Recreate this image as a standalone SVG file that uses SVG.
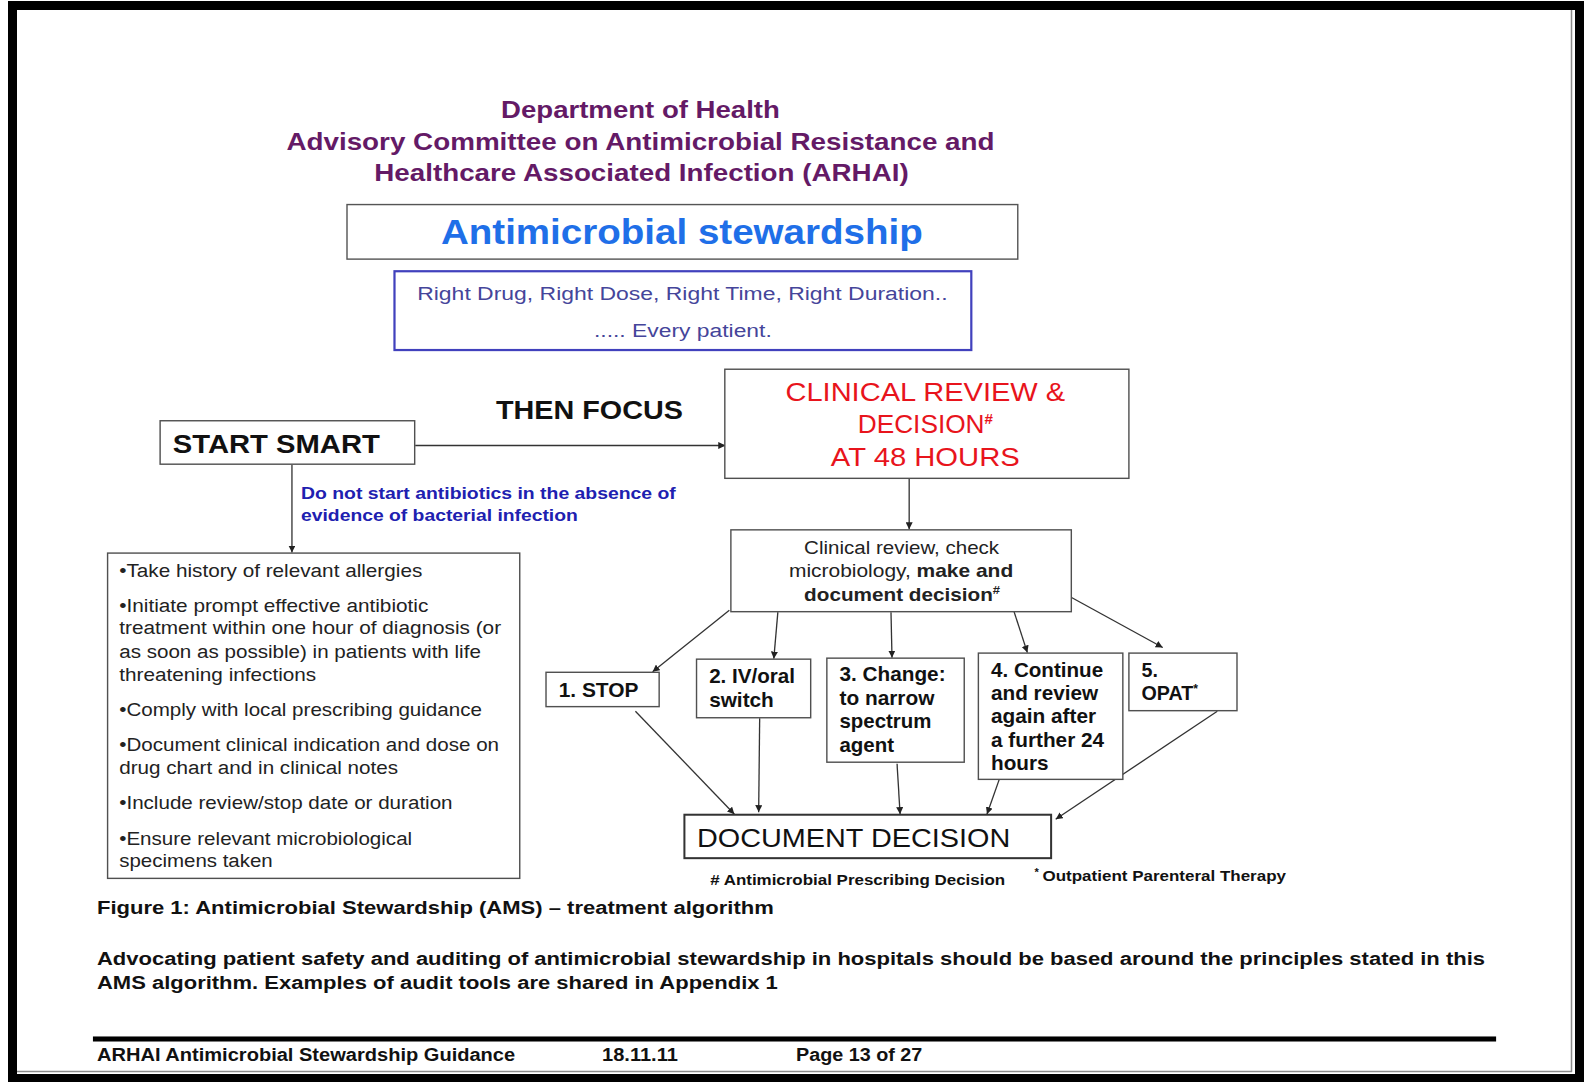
<svg xmlns="http://www.w3.org/2000/svg" width="1584" height="1082" viewBox="0 0 1584 1082">
  <style>
    .sans { font-family: "Liberation Sans", Arial, sans-serif; }
    .title { font-family: "Liberation Sans", Arial, sans-serif; font-weight: bold; font-size: 24px; fill: #641a66; text-anchor: middle; }
    .box { fill: #ffffff; stroke: #505050; stroke-width: 1.4; }
    .body { font-family: "Liberation Sans", Arial, sans-serif; font-size: 17.5px; fill: #222222; }
    .opt { font-family: "Liberation Sans", Arial, sans-serif; font-size: 19.5px; font-weight: bold; fill: #111111; }
    .red { font-family: "Liberation Sans", Arial, sans-serif; font-size: 26px; fill: #e8141c; text-anchor: middle; }
    .caption { font-family: "Liberation Sans", Arial, sans-serif; font-size: 19px; font-weight: bold; fill: #111111; }
    .conn { stroke: #333333; stroke-width: 1.3; fill: none; marker-end: url(#arrow); }
  </style>
  <defs>
    <marker id="arrow" viewBox="0 0 10 10" refX="10" refY="5" markerWidth="7" markerHeight="7" markerUnits="userSpaceOnUse" orient="auto">
      <path d="M0,0 L10,5 L0,10 z" fill="#222222"/>
    </marker>
  </defs>

  <!-- page background and frame -->
  <rect x="0" y="0" width="1584" height="1082" fill="#ffffff"/>
  <path d="M8,1 H1584 V1082 H8 Z M17,10 V1074 H1575 V10 Z" fill="#000000" fill-rule="evenodd"/>
  <line x1="1571.5" y1="10" x2="1571.5" y2="1072" stroke="#8a8a8a" stroke-width="1.5"/>
  <line x1="17" y1="1071.5" x2="1572" y2="1071.5" stroke="#8a8a8a" stroke-width="1.5"/>

  <g transform="scale(1.0102)">
    <!-- heading -->
    <g id="heading">
      <text class="title" x="634" y="117" textLength="276" lengthAdjust="spacingAndGlyphs">Department of Health</text>
      <text class="title" x="634" y="148" textLength="701" lengthAdjust="spacingAndGlyphs">Advisory Committee on Antimicrobial Resistance and</text>
      <text class="title" x="635" y="179" textLength="529" lengthAdjust="spacingAndGlyphs">Healthcare Associated Infection (ARHAI)</text>
    </g>

    <g id="stewardship-title">
      <rect x="343.5" y="202.5" width="664" height="54" fill="#ffffff" stroke="#555555" stroke-width="1.4"/>
      <text class="sans" x="675" y="242" font-size="34" font-weight="bold" fill="#1f6fe8" text-anchor="middle" textLength="477" lengthAdjust="spacingAndGlyphs">Antimicrobial stewardship</text>
    </g>

    <g id="principles">
      <rect x="390.5" y="268.5" width="571" height="78" fill="#ffffff" stroke="#4141bd" stroke-width="2.2"/>
      <text class="sans" x="675.5" y="297" font-size="19" fill="#45459a" text-anchor="middle" textLength="525" lengthAdjust="spacingAndGlyphs">Right Drug, Right Dose, Right Time, Right Duration..</text>
      <text class="sans" x="676" y="334" font-size="19" fill="#45459a" text-anchor="middle" textLength="176" lengthAdjust="spacingAndGlyphs">..... Every patient.</text>
    </g>

    <!-- connectors -->
    <g id="connectors">
      <line class="conn" x1="411" y1="441" x2="718" y2="441"/>
      <line class="conn" x1="289" y1="460" x2="289" y2="547"/>
      <line class="conn" x1="900" y1="474" x2="900" y2="524"/>
      <line class="conn" x1="722" y1="604" x2="646" y2="665"/>
      <line class="conn" x1="770" y1="606" x2="766" y2="652"/>
      <line class="conn" x1="882" y1="606" x2="883" y2="651"/>
      <line class="conn" x1="1003" y1="603" x2="1017" y2="646"/>
      <line class="conn" x1="1058" y1="590" x2="1151" y2="641"/>
      <line class="conn" x1="629" y1="704" x2="727" y2="806"/>
      <line class="conn" x1="752" y1="711" x2="751" y2="804"/>
      <line class="conn" x1="888" y1="756" x2="891" y2="806"/>
      <line class="conn" x1="989" y1="772" x2="977" y2="806"/>
      <line class="conn" x1="1205" y1="704" x2="1045" y2="811"/>
    </g>

    <text class="sans" x="491" y="415" font-size="25" font-weight="bold" fill="#111111" textLength="185" lengthAdjust="spacingAndGlyphs">THEN FOCUS</text>

    <g id="start-smart">
      <rect class="box" x="158.5" y="416.5" width="252" height="43"/>
      <text class="sans" x="171" y="448" font-size="25" font-weight="bold" fill="#111111" textLength="205" lengthAdjust="spacingAndGlyphs">START SMART</text>
    </g>

    <g id="clinical-review-48h">
      <rect class="box" x="717.5" y="365.5" width="400" height="108"/>
      <text class="red" x="916" y="397" textLength="277" lengthAdjust="spacingAndGlyphs">CLINICAL REVIEW &amp;</text>
      <text class="red" x="916" y="429">DECISION<tspan font-size="15" font-weight="bold" dy="-9">#</tspan></text>
      <text class="red" x="916" y="461" textLength="187" lengthAdjust="spacingAndGlyphs">AT 48 HOURS</text>
    </g>

    <g id="no-antibiotics-note">
      <text class="sans" x="298" y="494" font-size="16" font-weight="bold" fill="#2020b0" textLength="371" lengthAdjust="spacingAndGlyphs">Do not start antibiotics in the absence of</text>
      <text class="sans" x="298" y="516" font-size="16" font-weight="bold" fill="#2020b0" textLength="274" lengthAdjust="spacingAndGlyphs">evidence of bacterial infection</text>
    </g>

    <g id="start-smart-actions">
      <rect class="box" x="106.5" y="547.5" width="408" height="322"/>
      <text class="body" x="118" y="571" textLength="300" lengthAdjust="spacingAndGlyphs">•Take history of relevant allergies</text>
      <text class="body" x="118" y="606" textLength="306" lengthAdjust="spacingAndGlyphs">•Initiate prompt effective antibiotic</text>
      <text class="body" x="118" y="628" textLength="378" lengthAdjust="spacingAndGlyphs">treatment within one hour of diagnosis (or</text>
      <text class="body" x="118" y="651" textLength="358" lengthAdjust="spacingAndGlyphs">as soon as possible) in patients with life</text>
      <text class="body" x="118" y="674" textLength="195" lengthAdjust="spacingAndGlyphs">threatening infections</text>
      <text class="body" x="118" y="709" textLength="359" lengthAdjust="spacingAndGlyphs">•Comply with local prescribing guidance</text>
      <text class="body" x="118" y="743" textLength="376" lengthAdjust="spacingAndGlyphs">•Document clinical indication and dose on</text>
      <text class="body" x="118" y="766" textLength="276" lengthAdjust="spacingAndGlyphs">drug chart and in clinical notes</text>
      <text class="body" x="118" y="801" textLength="330" lengthAdjust="spacingAndGlyphs">•Include review/stop date or duration</text>
      <text class="body" x="118" y="836" textLength="290" lengthAdjust="spacingAndGlyphs">•Ensure relevant microbiological</text>
      <text class="body" x="118" y="858" textLength="152" lengthAdjust="spacingAndGlyphs">specimens taken</text>
    </g>

    <g id="review-decision">
      <rect class="box" x="723.5" y="524.5" width="337" height="81"/>
      <text class="body" x="892.5" y="548" font-size="17" text-anchor="middle" textLength="193" lengthAdjust="spacingAndGlyphs">Clinical review, check</text>
      <text class="body" x="892" y="571" font-size="17" text-anchor="middle" textLength="222" lengthAdjust="spacingAndGlyphs">microbiology, <tspan font-weight="bold">make and</tspan></text>
      <text class="body" x="893" y="595" font-size="17" font-weight="bold" text-anchor="middle" textLength="194" lengthAdjust="spacingAndGlyphs">document decision<tspan font-size="11" dy="-7">#</tspan></text>
    </g>

    <g id="opt-stop">
      <rect class="box" x="540.5" y="665.5" width="112" height="34"/>
      <text class="opt" x="553" y="690" textLength="79" lengthAdjust="spacingAndGlyphs">1. STOP</text>
    </g>

    <g id="opt-iv-oral">
      <rect class="box" x="689.5" y="652.5" width="113" height="58"/>
      <text class="opt" x="702" y="676" textLength="85" lengthAdjust="spacingAndGlyphs">2. IV/oral</text>
      <text class="opt" x="702" y="700" textLength="64" lengthAdjust="spacingAndGlyphs">switch</text>
    </g>

    <g id="opt-change">
      <rect class="box" x="818.5" y="651.5" width="136" height="103"/>
      <text class="opt" x="831" y="674" textLength="105" lengthAdjust="spacingAndGlyphs">3. Change:</text>
      <text class="opt" x="831" y="698" textLength="94" lengthAdjust="spacingAndGlyphs">to narrow</text>
      <text class="opt" x="831" y="721" textLength="91" lengthAdjust="spacingAndGlyphs">spectrum</text>
      <text class="opt" x="831" y="744" textLength="54" lengthAdjust="spacingAndGlyphs">agent</text>
    </g>

    <g id="opt-continue">
      <rect class="box" x="968.5" y="646.5" width="143" height="125"/>
      <text class="opt" x="981" y="670" textLength="111" lengthAdjust="spacingAndGlyphs">4. Continue</text>
      <text class="opt" x="981" y="693" textLength="106" lengthAdjust="spacingAndGlyphs">and review</text>
      <text class="opt" x="981" y="716" textLength="104" lengthAdjust="spacingAndGlyphs">again after</text>
      <text class="opt" x="981" y="739" textLength="112" lengthAdjust="spacingAndGlyphs">a further 24</text>
      <text class="opt" x="981" y="762" textLength="57" lengthAdjust="spacingAndGlyphs">hours</text>
    </g>

    <g id="opt-opat">
      <rect class="box" x="1117.5" y="646.5" width="107" height="57"/>
      <text class="opt" x="1130" y="670">5.</text>
      <text class="opt" x="1130" y="693">OPAT<tspan font-size="12" dy="-7">*</tspan></text>
    </g>

    <g id="document-decision">
      <rect x="677.5" y="806.5" width="363" height="43" fill="#ffffff" stroke="#333333" stroke-width="2"/>
      <text class="sans" x="690" y="838" font-size="26" fill="#111111" textLength="310" lengthAdjust="spacingAndGlyphs">DOCUMENT DECISION</text>
    </g>

    <g id="footnotes">
      <text class="sans" x="703" y="876" font-size="15" font-weight="bold" fill="#111111" textLength="292" lengthAdjust="spacingAndGlyphs"># Antimicrobial Prescribing Decision</text>
      <text class="sans" x="1024" y="867" font-size="11" font-weight="bold" fill="#111111">*</text>
      <text class="sans" x="1032" y="872" font-size="15" font-weight="bold" fill="#111111" textLength="241" lengthAdjust="spacingAndGlyphs">Outpatient Parenteral Therapy</text>
    </g>

    <!-- caption and page footer -->
    <text class="caption" x="96" y="905" textLength="670" lengthAdjust="spacingAndGlyphs">Figure 1: Antimicrobial Stewardship (AMS) – treatment algorithm</text>
    <text class="caption" x="96" y="955" textLength="1374" lengthAdjust="spacingAndGlyphs">Advocating patient safety and auditing of antimicrobial stewardship in hospitals should be based around the principles stated in this</text>
    <text class="caption" x="96" y="979" textLength="674" lengthAdjust="spacingAndGlyphs">AMS algorithm. Examples of audit tools are shared in Appendix 1</text>

    <rect x="92" y="1026" width="1389" height="5" fill="#000000"/>
    <text class="sans" x="96" y="1050" font-size="18" font-weight="bold" fill="#111111" textLength="414" lengthAdjust="spacingAndGlyphs">ARHAI Antimicrobial Stewardship Guidance</text>
    <text class="sans" x="596" y="1050" font-size="18" font-weight="bold" fill="#111111" textLength="75" lengthAdjust="spacingAndGlyphs">18.11.11</text>
    <text class="sans" x="788" y="1050" font-size="18" font-weight="bold" fill="#111111" textLength="125" lengthAdjust="spacingAndGlyphs">Page 13 of 27</text>
  </g>
</svg>
